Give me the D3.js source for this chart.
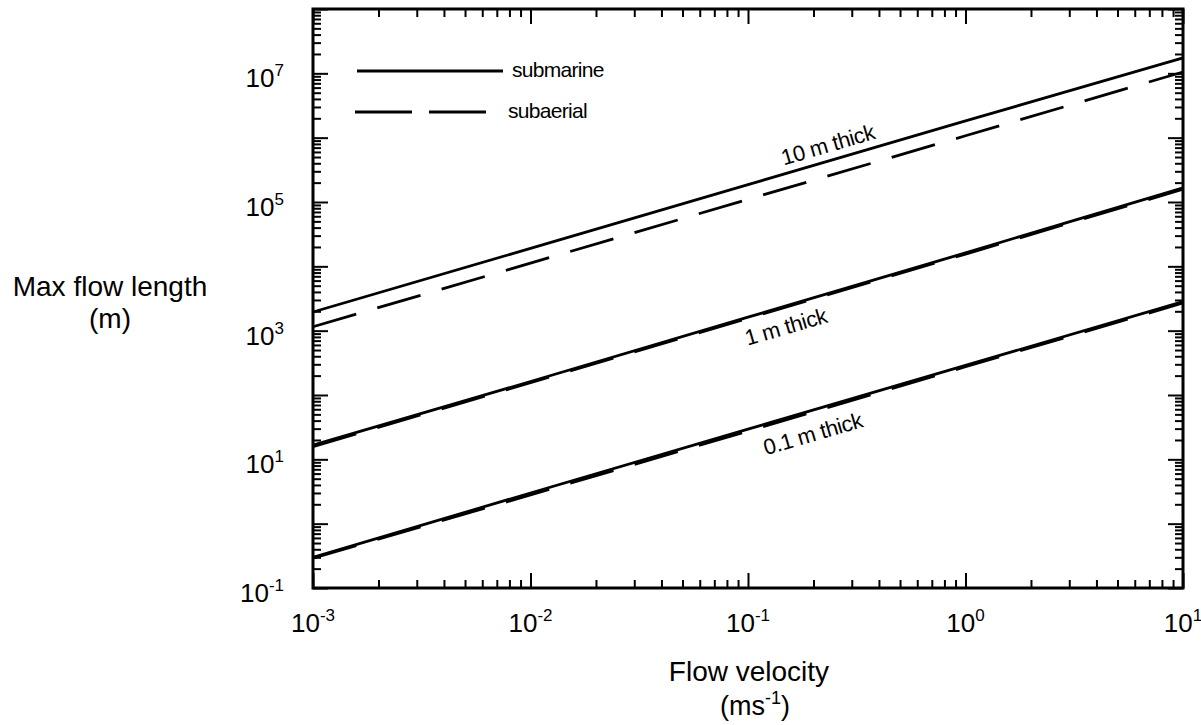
<!DOCTYPE html>
<html>
<head>
<meta charset="utf-8">
<script src="https://cdn.jsdelivr.net/npm/d3@7"></script>
<style>
  html, body { margin: 0; padding: 0; background: #fff; }
  svg text { font-family: "Liberation Sans", Arial, Helvetica, sans-serif; fill: #000; }
</style>
</head>
<body>
<svg id="chart" width="1201" height="725"></svg>
<script>
// ---- data ----
const velocity = [1e-3, 1e-2, 1e-1, 1, 10];
const submarine10m = [1950, 19000, 186000, 1.82e6, 1.74e7];
const subaerial10m = [1150, 11200, 110000, 1.07e6, 1.05e7];
const submarine1m = [16.6, 162, 1620, 16200, 1.66e5];
const subaerial1m = [15.8, 155, 1550, 15500, 1.58e5];
const submarine01m = [0.30, 3.0, 29.5, 288, 2820];
const subaerial01m = [0.29, 2.8, 27.5, 275, 2690];
const xTickExponents = [-3, -2, -1, 0, 1];
const yTickExponents = [-1, 1, 3, 5, 7];
const legendLabels = ["submarine", "subaerial"];
const thicknessLabels = ["10 m thick", "1 m thick", "0.1 m thick"];

const svg = d3.select("#chart");
const L = 313, R = 1183, T = 9, B = 588;
const x = d3.scaleLog().domain([1e-3, 1e1]).range([L, R]);
const y = d3.scaleLog().domain([1e-1, 1e8]).range([B, T]);

function minorTicks(scale) {
  const [a, b] = scale.domain();
  const out = [];
  for (let e = Math.round(Math.log10(a)); e < Math.round(Math.log10(b)); e++) {
    for (let k = 2; k <= 9; k++) out.push(k * Math.pow(10, e));
  }
  return out;
}
function majorTicks(scale) {
  const [a, b] = scale.domain();
  const out = [];
  for (let e = Math.round(Math.log10(a)); e <= Math.round(Math.log10(b)); e++) out.push(Math.pow(10, e));
  return out;
}

function styleAxis(g) {
  g.select(".domain").remove();
  g.selectAll(".tick line").attr("stroke", "#000").attr("stroke-width", 2);
  g.selectAll(".tick text").remove();
}

const specs = [
  [d3.axisBottom, x, B], [d3.axisTop, x, T],
  [d3.axisLeft, y, L], [d3.axisRight, y, R]
];
specs.forEach(([fn, sc, pos]) => {
  const horiz = (fn === d3.axisBottom || fn === d3.axisTop);
  const tr = horiz ? `translate(0,${pos})` : `translate(${pos},0)`;
  svg.append("g").attr("transform", tr)
    .call(fn(sc).tickValues(minorTicks(sc)).tickSize(-8).tickFormat(""))
    .call(styleAxis);
  svg.append("g").attr("transform", tr)
    .call(fn(sc).tickValues(majorTicks(sc)).tickSize(-15).tickFormat(""))
    .call(styleAxis);
});

// frame
svg.append("rect").attr("x", L).attr("y", T).attr("width", R - L).attr("height", B - T)
  .attr("fill", "none").attr("stroke", "#000").attr("stroke-width", 3);

// tick labels
xTickExponents.forEach(e => {
  const t = svg.append("text").attr("x", x(Math.pow(10, e))).attr("y", 632)
    .attr("text-anchor", "middle").attr("font-size", 26);
  t.append("tspan").text("10");
  t.append("tspan").attr("font-size", 17).attr("dy", -11).text(e < 0 ? "-" + (-e) : String(e));
});
yTickExponents.forEach(e => {
  const t = svg.append("text").attr("x", 284).attr("y", y(Math.pow(10, e)) + 14)
    .attr("text-anchor", "end").attr("font-size", 26);
  t.append("tspan").text("10");
  t.append("tspan").attr("font-size", 17).attr("dy", -11).text(e < 0 ? "-" + (-e) : String(e));
});

// series lines
const line = d3.line().x(d => x(d[0])).y(d => y(d[1]));
const series = [
  [submarine10m, false], [subaerial10m, true],
  [submarine1m, false], [subaerial1m, true],
  [submarine01m, false], [subaerial01m, true]
];
series.forEach(([vals, dashed]) => {
  svg.append("path")
    .datum(velocity.map((v, i) => [v, vals[i]]))
    .attr("d", line)
    .attr("fill", "none").attr("stroke", "#000").attr("stroke-width", 2.8)
    .attr("stroke-dasharray", dashed ? "45,22" : null);
});

// thickness labels (rotated along lines)
const angle = -16.3;
const lblPos = [[830, 152], [788, 334], [815, 441]];
thicknessLabels.forEach((s, i) => {
  svg.append("text").attr("transform", `translate(${lblPos[i][0]},${lblPos[i][1]}) rotate(${angle})`)
    .attr("text-anchor", "middle").attr("font-size", 22).attr("letter-spacing", "-0.4px").text(s);
});

// legend
svg.append("line").attr("x1", 357).attr("x2", 503).attr("y1", 71).attr("y2", 71)
  .attr("stroke", "#000").attr("stroke-width", 2.8);
svg.append("line").attr("x1", 355).attr("x2", 487).attr("y1", 112).attr("y2", 112)
  .attr("stroke", "#000").attr("stroke-width", 2.8).attr("stroke-dasharray", "57,17");
svg.append("text").attr("x", 512).attr("y", 77).attr("font-size", 21).attr("letter-spacing", "-0.7px").text(legendLabels[0]);
svg.append("text").attr("x", 508).attr("y", 118).attr("font-size", 21).attr("letter-spacing", "-0.7px").text(legendLabels[1]);

// axis titles
svg.append("text").attr("x", 110).attr("y", 296).attr("text-anchor", "middle").attr("font-size", 28).text("Max flow length");
svg.append("text").attr("x", 110).attr("y", 328).attr("text-anchor", "middle").attr("font-size", 28).text("(m)");
svg.append("text").attr("x", 749).attr("y", 681).attr("text-anchor", "middle").attr("font-size", 28).text("Flow velocity");
const u = svg.append("text").attr("x", 755).attr("y", 715).attr("text-anchor", "middle").attr("font-size", 27);
u.append("tspan").text("(ms");
u.append("tspan").attr("font-size", 18).attr("dy", -11).text("-1");
u.append("tspan").attr("dy", 11).text(")");
</script>
</body>
</html>
